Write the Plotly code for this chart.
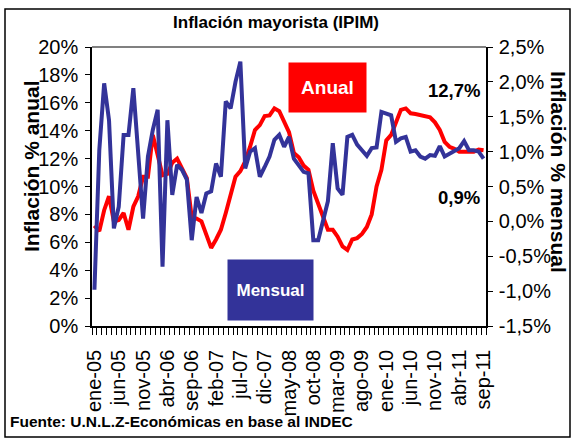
import plotly.graph_objects as go

# ---------------- data ----------------
n_meses = 81  # ene-05 .. sep-11
indice = list(range(n_meses))

anual = [
    7.2, 6.8, 8.3, 9.3, 7.5, 7.6, 8.1, 6.9, 8.55, 9.3,
    10.7, 10.7, 13.7, 12.3, 10.8, 10.9, 11.7, 12.0, 11.3, 10.6,
    7.8, 7.7, 7.5, 6.5, 5.6, 6.2, 6.9, 8.1, 9.5, 10.7,
    11.1, 11.8, 12.85, 14.05, 14.4, 15.05, 15.1, 15.6, 15.4, 14.6,
    13.9, 12.4, 12.1, 11.5, 11.2, 9.7, 8.8, 7.8, 6.9, 6.9,
    6.4, 5.7, 5.45, 6.2, 6.3, 6.6, 7.1, 8.0, 10.0, 11.2,
    13.3, 13.7, 14.6, 15.5, 15.6, 15.25, 15.2, 15.1, 15.05, 14.96,
    14.6, 14.05, 13.2, 12.85, 12.7, 12.5, 12.5, 12.5, 12.5, 12.65,
    12.6,
]
mensual = [
    -0.98, 1.02, 1.98, 1.45, -0.10, 0.21, 1.24, 1.24, 1.91, 0.93,
    0.04, 0.93, 1.31, 1.60, -0.65, 1.45, 0.38, 0.81, 0.74, 0.60,
    -0.27, 0.35, 0.12, 0.40, 0.43, 0.83, 0.64, 1.72, 1.62, 2.00,
    2.29, 0.76, 1.00, 1.05, 0.64, 0.78, 0.93, 1.17, 1.24, 1.07,
    1.21, 0.90, 0.81, 0.71, 0.69, -0.27, -0.27, 0.00, 0.29, 1.12,
    0.47, 0.38, 1.21, 1.24, 1.10, 1.02, 0.94, 1.05, 1.06, 1.57,
    1.55, 1.52, 1.14, 1.19, 1.21, 1.00, 1.02, 0.93, 0.90, 0.95,
    0.94, 1.08, 0.93, 0.97, 1.00, 1.05, 1.15, 1.02, 1.02, 1.00,
    0.90,
]

x_tick_pos = [0, 5, 10, 15, 20, 25, 30, 35, 40, 45, 50, 55, 60, 65, 70, 75, 80]
x_tick_text = ["ene-05", "jun-05", "nov-05", "abr-06", "sep-06", "feb-07", "jul-07",
               "dic-07", "may-08", "oct-08", "mar-09", "ago-09", "ene-10", "jun-10",
               "nov-10", "abr-11", "sep-11"]
y1_tick_vals = [0, 2, 4, 6, 8, 10, 12, 14, 16, 18, 20]
y1_tick_text = ["0%", "2%", "4%", "6%", "8%", "10%", "12%", "14%", "16%", "18%", "20%"]
y2_tick_vals = [-1.5, -1.0, -0.5, 0.0, 0.5, 1.0, 1.5, 2.0, 2.5]
y2_tick_text = ["-1,5%", "-1,0%", "-0,5%", "0,0%", "0,5%", "1,0%", "1,5%", "2,0%", "2,5%"]

# ---------------- layout constants ----------------
W, H = 576, 443
L, R, T, B = 92, 90, 47, 117
PW, PH = W - L - R, H - T - B
FONT = "Liberation Sans, Arial, sans-serif"
RED = "#FF0000"
BLUE = "#333399"

def px_x(px):
    return (px - L) / PW

def px_y(py):
    return (H - B - py) / PH

boundaries = [i - 0.5 for i in range(n_meses + 1)]
xr = [-0.5, n_meses - 0.5]

fig = go.Figure()
fig.add_trace(go.Scatter(x=indice, y=anual, mode="lines", name="Anual",
                         line=dict(color=RED, width=4), yaxis="y", xaxis="x"))
fig.add_trace(go.Scatter(x=indice, y=mensual, mode="lines", name="Mensual",
                         line=dict(color=BLUE, width=4), yaxis="y2", xaxis="x"))

axis_font = dict(family=FONT, size=20, color="black")

fig.update_layout(
    width=W, height=H,
    margin=dict(l=L, r=R, t=T, b=B, pad=0),
    paper_bgcolor="white", plot_bgcolor="white",
    showlegend=False,
    font=dict(family=FONT, color="black"),
    title=dict(text="<b>Inflación mayorista (IPIM)</b>", x=276 / W, xref="container",
               xanchor="center", y=1 - 22 / H, yref="container", yanchor="middle",
               font=dict(family=FONT, size=17, color="black")),
    xaxis=dict(range=xr, tickmode="array", tickvals=x_tick_pos, ticktext=x_tick_text,
               tickangle=-90, ticks="outside", ticklen=14, tickcolor="rgba(0,0,0,0)",
               tickfont=axis_font, showline=True, linecolor="black", linewidth=1.5,
               showgrid=False, zeroline=False,
               minor=dict(tickmode="array", tickvals=boundaries, ticks="outside",
                          ticklen=7, tickwidth=1, tickcolor="black", showgrid=False)),
    xaxis2=dict(range=xr, overlaying="x", anchor="y", side="bottom", tickmode="array",
                tickvals=boundaries, ticks="inside", ticklen=5, tickwidth=1,
                tickcolor="black", showticklabels=False, showline=False,
                showgrid=False, zeroline=False),
    yaxis=dict(range=[0, 20], tickmode="array", tickvals=y1_tick_vals, ticktext=y1_tick_text,
               ticks="outside", ticklen=5, tickwidth=1, tickcolor="black",
               tickfont=axis_font, showline=True, linecolor="black", linewidth=1.5,
               showgrid=False, zeroline=False, ticklabelstandoff=3),
    yaxis2=dict(range=[-1.5, 2.5], overlaying="y", side="right", anchor="x",
                tickmode="array", tickvals=y2_tick_vals, ticktext=y2_tick_text,
                ticks="outside", ticklen=5, tickwidth=1, tickcolor="black",
                tickfont=axis_font, showline=True, linecolor="black", linewidth=1.5,
                showgrid=False, zeroline=False, ticklabelstandoff=2),
    yaxis3=dict(range=[0, 20], overlaying="y", side="left", anchor="x",
                tickmode="array", tickvals=y1_tick_vals, ticks="inside", ticklen=5,
                tickwidth=1, tickcolor="black", showticklabels=False, showline=False,
                showgrid=False, zeroline=False),
    yaxis4=dict(range=[-1.5, 2.5], overlaying="y", side="right", anchor="x",
                tickmode="array", tickvals=y2_tick_vals, ticks="inside", ticklen=5,
                tickwidth=1, tickcolor="black", showticklabels=False, showline=False,
                showgrid=False, zeroline=False),
)

# top border of plot area (gray) and outer frame
fig.add_shape(type="line", xref="paper", yref="paper", x0=0, x1=1, y0=1, y1=1,
              line=dict(color="#808080", width=2))
fig.add_shape(type="rect", xref="paper", yref="paper",
              x0=px_x(5), x1=px_x(570), y0=px_y(437), y1=px_y(9),
              line=dict(color="black", width=1.5), fillcolor="rgba(0,0,0,0)", layer="below")

C = dict(xref="paper", yref="paper", showarrow=False, xanchor="center", yanchor="middle")
ann = []
ann.append(dict(text="<b>Inflación % anual</b>", textangle=-90, x=px_x(31), y=px_y(166),
                font=dict(family=FONT, size=21, color="black"), **C))
ann.append(dict(text="<b>Inflación % mensual</b>", textangle=90, x=px_x(559), y=px_y(172),
                font=dict(family=FONT, size=21, color="black"), **C))
ann.append(dict(text="<b>Anual</b>", x=px_x(327.5), y=px_y(87.5),
                width=77, height=49, bgcolor=RED, borderpad=0,
                font=dict(family=FONT, size=19, color="white"), **C))
ann.append(dict(text="<b>Mensual</b>", x=px_x(270.5), y=px_y(290),
                width=85, height=60, bgcolor=BLUE, borderpad=0,
                font=dict(family=FONT, size=17, color="white"), **C))
ann.append(dict(text="<b>12,7%</b>", x=px_x(453.5), y=px_y(90),
                font=dict(family=FONT, size=18.5, color="black"), **C))
ann.append(dict(text="<b>0,9%</b>", x=px_x(458.5), y=px_y(197),
                font=dict(family=FONT, size=18.5, color="black"), **C))
ann.append(dict(text="<b>Fuente: U.N.L.Z-Económicas en base al INDEC</b>", x=px_x(8),
                y=px_y(421), xref="paper", yref="paper", xanchor="left", yanchor="middle",
                showarrow=False, font=dict(family=FONT, size=15.5, color="black")))
fig.update_layout(annotations=ann)

fig.write_html("out.html", config={"displayModeBar": False},
               post_script="document.body.style.margin='0';document.body.style.overflow='hidden';")
